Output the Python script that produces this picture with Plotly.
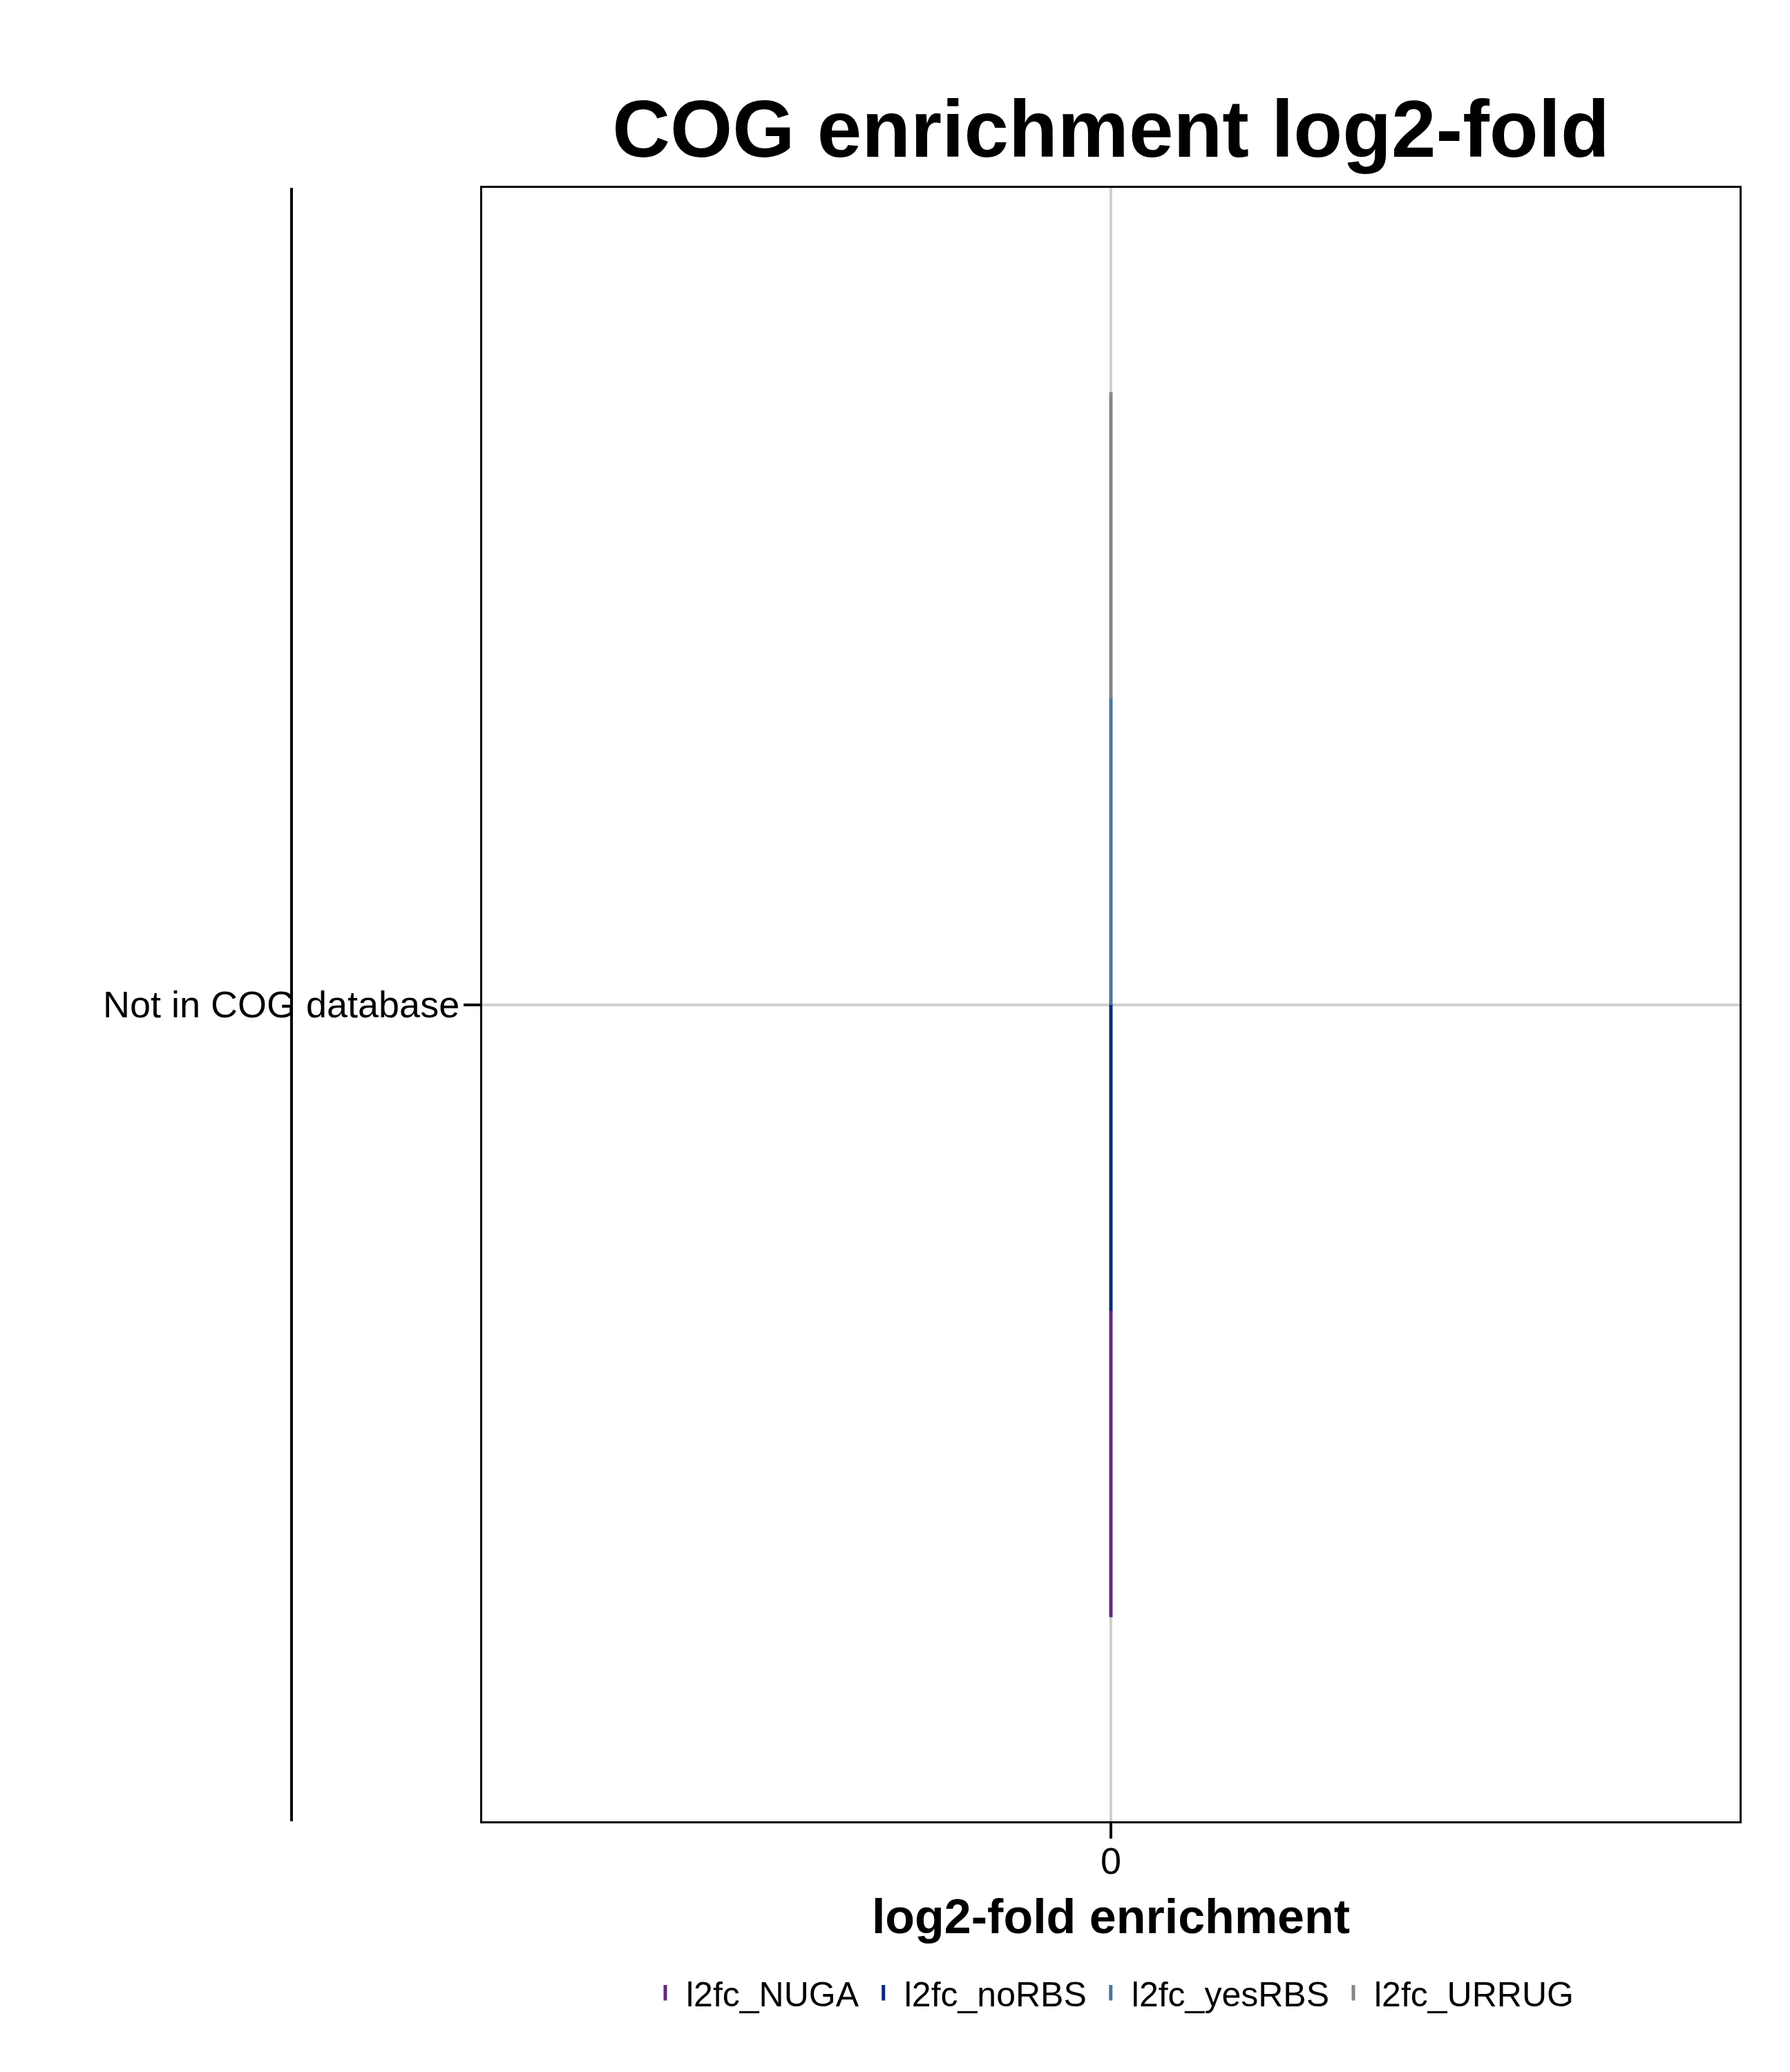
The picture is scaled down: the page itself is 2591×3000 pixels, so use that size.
import plotly.graph_objects as go

# ---- data ----
categories = ["Not in COG database"]
series_names = ["l2fc_NUGA", "l2fc_noRBS", "l2fc_yesRBS", "l2fc_URRUG"]
series_values = {
    "l2fc_NUGA": [0.0],
    "l2fc_noRBS": [0.0],
    "l2fc_yesRBS": [0.0],
    "l2fc_URRUG": [0.0],
}
series_colors = {
    "l2fc_NUGA": "#65297f",
    "l2fc_noRBS": "#0b2a7f",
    "l2fc_yesRBS": "#4a76a0",
    "l2fc_URRUG": "#878787",
}
x_ticks = [0]

FONT = "Liberation Sans, Arial, Helvetica, sans-serif"

W, H = 2591, 3000
ML, MR, MT, MB = 698, 73, 272, 363

fig = go.Figure()

# dodged horizontal bars (ggplot-like geometry: total width 0.9, categories at 1..n)
n = len(series_names)
total_w = 0.9
bw = total_w / n
for ci, cat in enumerate(categories):
    pos = ci + 1
    for si, name in enumerate(series_names):
        v = series_values[name][ci]
        y0 = pos - total_w / 2 + si * bw
        y1 = y0 + bw
        fig.add_trace(go.Scatter(
            x=[0, v, v, 0, 0],
            y=[y0, y0, y1, y1, y0],
            mode="lines",
            fill="toself",
            fillcolor=series_colors[name],
            line=dict(color=series_colors[name], width=5),
            showlegend=False,
            legendgroup=name,
            hoverinfo="skip",
        ))

# legend entries
for name in series_names:
    fig.add_trace(go.Scatter(
        x=[None], y=[None], mode="markers",
        marker=dict(symbol="line-ns", size=16,
                    line=dict(color=series_colors[name], width=5),
                    color=series_colors[name]),
        name=name, legendgroup=name, showlegend=True,
    ))

fig.update_layout(
    width=W, height=H,
    margin=dict(l=ML, r=MR, t=MT, b=MB, autoexpand=False),
    paper_bgcolor="white", plot_bgcolor="white",
    font=dict(family=FONT, color="black"),
    title=dict(text="<b>COG enrichment log2-fold</b>",
               font=dict(family=FONT, size=116, color="black"),
               x=0.5, xref="paper", xanchor="center",
               y=1 - 186 / H, yref="container", yanchor="middle"),
    showlegend=True,
    legend=dict(orientation="h", x=0.5, xanchor="center",
                y=-0.105, yanchor="middle",
                font=dict(family=FONT, size=50, color="black"),
                itemsizing="trace", itemwidth=50,
                bgcolor="rgba(0,0,0,0)"),
    xaxis=dict(range=[-1, 1], tickvals=x_ticks, ticktext=[str(t) for t in x_ticks],
               ticks="outside", ticklen=22, tickwidth=4, tickcolor="black",
               ticklabelstandoff=-14,
               tickfont=dict(family=FONT, size=54, color="black"),
               showgrid=True, gridcolor="#d0d0d0", gridwidth=4,
               zeroline=False, showline=True, linecolor="black", linewidth=3,
               mirror=True,
               title=dict(text="<b>log2-fold enrichment</b>",
                          font=dict(family=FONT, size=70, color="black"),
                          standoff=28)),
    yaxis=dict(range=[0.4, len(categories) + 0.6],
               tickvals=list(range(1, len(categories) + 1)), ticktext=categories,
               ticks="outside", ticklen=24, tickwidth=4, tickcolor="black",
               ticklabelstandoff=-5,
               tickfont=dict(family=FONT, size=54, color="black"),
               showgrid=True, gridcolor="#d0d0d0", gridwidth=4,
               zeroline=False, showline=True, linecolor="black", linewidth=3,
               mirror=True),
)

# decorative left rule
fig.add_shape(type="line", xref="paper", yref="paper",
              x0=(422 - ML) / (W - ML - MR), x1=(422 - ML) / (W - ML - MR),
              y0=0, y1=1, line=dict(color="black", width=4), layer="above")

fig.write_html("out.html")
